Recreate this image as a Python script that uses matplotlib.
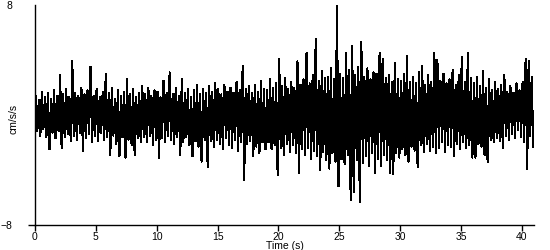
import matplotlib.pyplot as plt
import numpy as np

# peak values, 4 windows of 0.25 s per row (one row = 1 s)
upper = [
    1.4, 1.1, 1.7, 1.3,
    1.6, 1.2, 1.8, 1.4,
    2.9, 1.5, 1.9, 1.3,
    3.9, 1.6, 1.4, 2.0,
    1.5, 1.8, 3.5, 1.4,
    1.9, 1.3, 1.7, 3.0,
    1.6, 2.0, 1.2, 1.8,
    1.4, 1.7, 2.6, 1.5,
    1.9, 1.3, 1.6, 2.1,
    1.5, 2.0, 1.4, 1.8,
    1.7, 1.3, 2.5, 1.6,
    3.1, 1.5, 2.0, 1.4,
    2.6, 1.6, 1.9, 1.3,
    1.8, 2.2, 1.5, 1.9,
    1.6, 2.1, 1.7, 2.3,
    1.9, 1.5, 2.2, 1.7,
    2.0, 1.6, 2.4, 1.8,
    3.6, 1.9, 2.1, 1.6,
    2.2, 1.7, 2.5, 1.9,
    1.8, 2.6, 2.0, 2.3,
    4.1, 2.1, 2.7, 1.9,
    2.4, 2.0, 3.9, 2.2,
    2.6, 4.5, 2.3, 2.9,
    5.5, 2.5, 3.2, 2.7,
    2.8, 3.4, 2.6, 7.9,
    3.0, 2.7, 4.5, 3.3,
    5.0, 2.9, 3.5, 5.3,
    2.8, 3.4, 2.6, 3.1,
    3.0, 4.5, 4.1, 2.7,
    2.9, 2.4, 3.8, 2.6,
    2.5, 3.0, 4.3, 2.4,
    2.8, 2.3, 3.1, 3.6,
    2.2, 2.9, 2.4, 4.5,
    4.0, 2.5, 3.0, 2.3,
    2.6, 3.3, 2.2, 2.9,
    4.2, 2.4, 4.5, 2.7,
    2.3, 2.8, 2.1, 3.2,
    2.0, 2.6, 1.8, 2.4,
    1.9, 2.2, 2.9, 1.7,
    2.1, 1.6, 2.3, 1.8,
    2.4, 4.1, 3.9, 2.8,
]
lower = [
    -1.2, -1.5, -1.0, -1.6,
    -2.5, -1.3, -1.7, -1.2,
    -2.4, -1.6, -1.4, -1.9,
    -1.5, -1.8, -1.3, -2.6,
    -1.7, -1.4, -2.0, -1.5,
    -1.9, -1.3, -1.8, -1.6,
    -2.9, -1.5, -2.1, -3.0,
    -1.6, -3.1, -1.8, -2.2,
    -2.9, -1.7, -2.0, -1.6,
    -2.0, -1.5, -2.2, -1.8,
    -3.1, -1.7, -2.0, -1.5,
    -1.8, -2.1, -1.6, -2.9,
    -2.0, -1.6, -2.2, -3.0,
    -1.9, -2.3, -3.4, -1.8,
    -3.8, -1.9, -2.3, -1.8,
    -2.1, -2.5, -1.7, -2.2,
    -2.4, -1.8, -2.6, -2.0,
    -4.7, -2.1, -1.9, -3.0,
    -2.3, -2.8, -2.0, -2.5,
    -2.0, -2.5, -2.2, -4.4,
    -2.4, -2.9, -2.1, -2.7,
    -2.2, -2.8, -4.2, -2.5,
    -2.9, -2.4, -3.2, -2.6,
    -3.0, -4.0, -2.7, -3.3,
    -3.9, -2.8, -3.4, -5.2,
    -3.2, -3.6, -2.9, -6.2,
    -5.6, -3.3, -6.35, -3.5,
    -3.0, -3.7, -2.8, -4.2,
    -3.2, -3.7, -2.9, -3.3,
    -4.2, -4.3, -2.8, -3.1,
    -2.5, -2.9, -3.4, -2.3,
    -2.6, -3.8, -2.2, -2.7,
    -2.1, -2.6, -2.3, -2.8,
    -2.4, -2.0, -2.7, -2.2,
    -2.3, -3.0, -2.1, -2.5,
    -2.0, -2.4, -2.2, -3.1,
    -3.1, -2.1, -2.3, -2.9,
    -3.4, -1.8, -2.0, -1.7,
    -1.9, -2.4, -1.5, -1.8,
    -1.4, -1.7, -1.1, -1.6,
    -2.0, -3.95, -1.5, -2.3,
]
window = 0.25
t_end = 41.0
x_ticks = [0, 5, 10, 15, 20, 25, 30, 35, 40]
y_ticks = [-8, 8]

# interleave the peaks into one trace
up = np.array(upper)
dn = np.array(lower)
t_up = np.arange(len(up)) * window + window / 4
t_dn = t_up + window / 2
t = np.column_stack([t_up, t_dn]).ravel()
acc = np.column_stack([up, dn]).ravel()
t = np.concatenate([[0.0], t, [t_end]])
acc = np.concatenate([[0.3], acc, [0.0]])

plt.rcParams['font.family'] = ['Liberation Sans', 'DejaVu Sans']
fig = plt.figure(figsize=(5.5, 2.5), dpi=100)
ax = fig.add_axes([35 / 550, 0.1, 499 / 550, 0.88])
ax.plot(t, acc, color='black', lw=0.8, antialiased=False)

ax.set_xlim(0, 41)
ax.set_ylim(-8, 8)
ax.set_xticks(x_ticks)
ax.set_yticks(y_ticks)
ax.tick_params(axis='x', direction='out', length=4, width=1, pad=1, labelsize=7.5)
ax.tick_params(axis='y', direction='out', length=5, width=1, pad=11, labelsize=7.5)
ax.yaxis.get_major_ticks()[1].tick1line.set_visible(False)
for s in ['top', 'right']:
    ax.spines[s].set_visible(False)
ax.spines['left'].set_linewidth(1)
ax.spines['bottom'].set_linewidth(1)

ax.set_xlabel('Time (s)', fontsize=7.5, labelpad=-1)
ax.set_ylabel('cm/s/s', fontsize=7.5)
ax.yaxis.set_label_coords(-0.034, 0.48)

fig.savefig('out.png', dpi=100)
